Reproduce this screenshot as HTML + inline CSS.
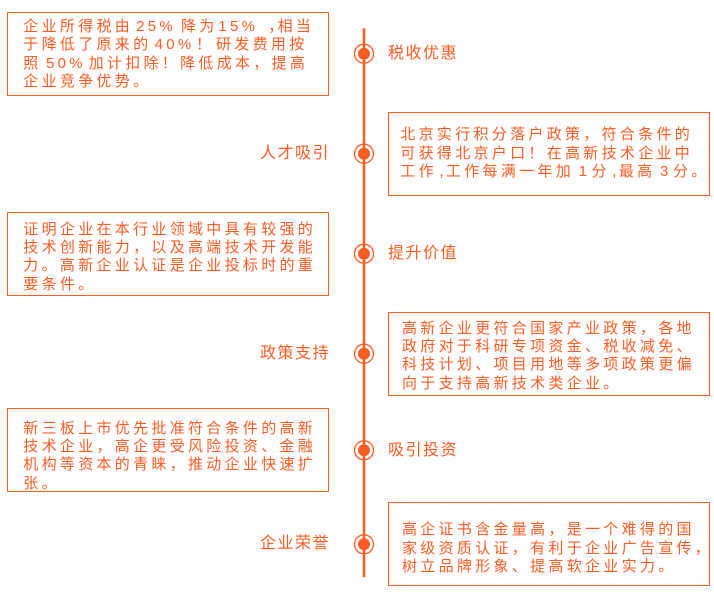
<!DOCTYPE html>
<html>
<head>
<meta charset="utf-8">
<style>
  html, body { margin:0; padding:0; }
  body { width:714px; height:608px; background:#fff; position:relative; overflow:hidden;
         font-family:"Liberation Sans","Noto Sans CJK SC",sans-serif; color:#fd5c23; }
  .box { position:absolute; border:1px solid #fd5c23; box-sizing:border-box; width:322px; height:84px; }
  .txt { position:absolute; font-size:15px; line-height:18.33px; letter-spacing:3.3px; white-space:nowrap; }
  .w { display:inline-block; box-sizing:border-box; white-space:nowrap; }
  .c { text-align:center; letter-spacing:0; }
  .lab { position:absolute; font-size:16px; line-height:20px; height:20px; letter-spacing:1.5px; white-space:nowrap; }
  .labL { left:190px; width:140px; text-align:right; }
  .labR { left:388px; }
  svg { position:absolute; left:0; top:0; }
</style>
</head>
<body>
<svg width="714" height="608" viewBox="0 0 714 608">
  <line x1="364" y1="28.3" x2="364" y2="577.3" stroke="#fd5c23" stroke-width="2.5"/>
  <g fill="none" stroke="#fd5c23" stroke-width="1.3">
    <circle cx="364" cy="53.7" r="9.5"/>
    <circle cx="364" cy="153.7" r="9.5"/>
    <circle cx="364" cy="253.7" r="9.5"/>
    <circle cx="364" cy="353.7" r="9.5"/>
    <circle cx="364" cy="450.3" r="9.5"/>
    <circle cx="364" cy="544.3" r="9.5"/>
  </g>
  <g fill="#fd5c23">
    <circle cx="364" cy="53.7" r="6"/>
    <circle cx="364" cy="153.7" r="6"/>
    <circle cx="364" cy="253.7" r="6"/>
    <circle cx="364" cy="353.7" r="6"/>
    <circle cx="364" cy="450.3" r="6"/>
    <circle cx="364" cy="544.3" r="6"/>
  </g>
</svg>

<!-- Boxes -->
<div class="box" style="left:7px; top:12px;"></div>
<div class="box" style="left:388px; top:112px;"></div>
<div class="box" style="left:7px; top:212px;"></div>
<div class="box" style="left:388px; top:312px;"></div>
<div class="box" style="left:7px; top:408px;"></div>
<div class="box" style="left:388px; top:502px;"></div>

<!-- Box texts -->
<div class="txt" style="left:23.3px; top:18px;">企业所得税由<span class="w" style="width:47.9px;padding-left:3px;">25%</span>降为<span class="w" style="width:60px;padding-left:0.7px;">15%<span style="margin-left:10px">，</span></span>相当<br>于降低了原来的<span class="w" style="width:64.6px;padding-left:3.2px;">40%<span style="margin-left:1.5px">！</span></span>研发费用按<br>照<span class="w" style="width:47px;padding-left:4.4px;">50%</span>加计扣除！降低成本，提高<br>企业竞争优势。</div>

<div class="txt" style="left:400.3px; top:126.3px;">北京实行积分落户政策，符合条件的<br>可获得北京户口！在高新技术企业中<br>工作<span class="w c" style="width:9px;">,</span>工作每满一年加<span class="w c" style="width:17.5px;">1</span>分<span class="w c" style="width:9px;">,</span>最高<span class="w c" style="width:17.5px;">3</span>分。</div>

<div class="txt" style="left:23.3px; top:220.7px;">证明企业在本行业领域中具有较强的<br>技术创新能力，以及高端技术开发能<br>力。高新企业认证是企业投标时的重<br>要条件。</div>

<div class="txt" style="left:402px; top:319.7px;">高新企业更符合国家产业政策，各地<br>政府对于科研专项资金、税收减免、<br>科技计划、项目用地等多项政策更偏<br>向于支持高新技术类企业。</div>

<div class="txt" style="left:23.3px; top:419.7px;">新三板上市优先批准符合条件的高新<br>技术企业，高企更受风险投资、金融<br>机构等资本的青睐，推动企业快速扩<br>张。</div>

<div class="txt" style="left:402px; top:521.3px;">高企证书含金量高，是一个难得的国<br>家级资质认证，有利于企业广告宣传，<br>树立品牌形象、提高软企业实力。</div>

<!-- Labels -->
<div class="lab labR" style="top:44.4px;">税收优惠</div>
<div class="lab labL" style="top:144.4px;">人才吸引</div>
<div class="lab labR" style="top:244.4px;">提升价值</div>
<div class="lab labL" style="top:344.4px;">政策支持</div>
<div class="lab labR" style="top:441px;">吸引投资</div>
<div class="lab labL" style="top:534.4px;">企业荣誉</div>
</body>
</html>
